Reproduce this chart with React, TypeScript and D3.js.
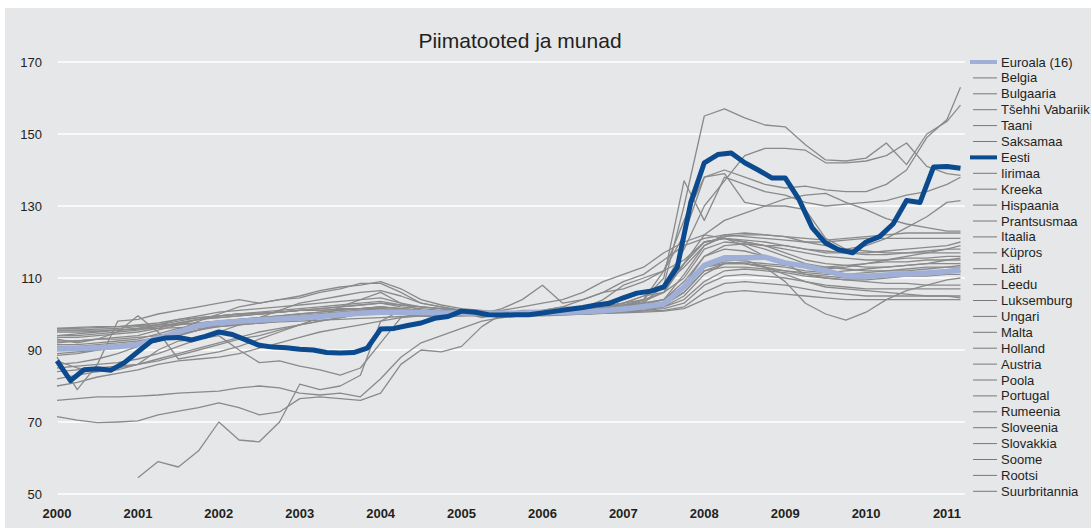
import React from 'react';
import * as d3 from 'd3';

const title = 'Piimatooted ja munad';
const yTicks = [50, 70, 90, 110, 130, 150, 170];
const xTicks = [2000, 2001, 2002, 2003, 2004, 2005, 2006, 2007, 2008, 2009, 2010, 2011];

// quarterly points (months after Jan 2000), last one Mar 2011
const qMonths = [...d3.range(0, 133, 3), 134];
// every second month for Eesti
const eMonths = d3.range(0, 135, 2);

const euroala = [
  90.3, 90.4, 90.6, 90.9, 91.5, 93.2, 95, 96.8, 97.6, 98, 98.3, 98.6, 98.9, 99.3, 99.8, 100.2,
  100.5, 100.5, 100.4, 100.3, 100.3, 100.2, 100.2, 100.3, 100.4, 100.5, 100.6, 100.9, 101.4, 102, 102.8, 107.5,
  113.5, 115.6, 115.6, 115.8, 114.2, 113.3, 112, 110.6, 110.5, 110.8, 111.1, 111.4, 111.8, 112.2,
];

const eesti = [
  87, 81.5, 84.5, 84.8, 84.4, 86.5, 89.5, 92.5, 93.3, 93.5, 92.8, 93.8, 95, 94.3, 92.8, 91.3, 90.8,
  90.6, 90.2, 90, 89.3, 89.2, 89.3, 90.5, 95.8, 96, 96.8, 97.5, 98.8, 99.3, 100.8, 100.5, 99.8, 99.7,
  99.8, 99.8, 100.3, 100.8, 101.3, 101.8, 102.5, 103, 104.5, 105.8, 106.3, 107.5, 113, 131, 142, 144.3,
  144.7, 142, 140, 137.8, 137.8, 132, 124, 119.7, 117.8, 117, 120, 121.5, 125, 131.5, 131, 140.8, 141, 140.5,
];

const belgia = [95, 95, 95.2, 95.5, 96, 96.5, 97, 97.5, 98, 98.5, 99, 99, 99.5, 99.8, 100, 100.5, 101, 101, 100.5, 100.5, 100, 100, 100, 100, 100.3, 100.5, 100.8, 101, 101.5, 102, 103, 108, 116, 119, 119.5, 119, 118, 117, 116, 115.5, 115, 115, 115.5, 115.5, 116, 116];
const bulgaaria = [null, null, null, null, 54.5, 59, 57.5, 62, 70, 65, 64.5, 70, 80.5, 79, 80, 83, 98, 101, 100, 101, 100.5, 99, 100, 100.5, 101, 102, 101.5, 104, 108, 110, 112, 122, 138, 139, 131, 130, 130, 129, 121, 118, 119, 121, 124, 127, 131, 131.5];
const tsehhi = [84, 84.5, 85, 85.5, 86, 87.5, 89, 90.5, 92, 93.5, 95, 96, 97, 98, 99, 100, 100.5, 100, 99.5, 99, 99.5, 100, 101.5, 104, 108, 103, 104, 106, 109, 111, 115, 119, 121, 122, 121.5, 121, 120.5, 120, 120, 120.5, 121, 121, 121, 121, 121, 121];
const taani = [95.5, 95.5, 95.5, 95.5, 95.8, 96, 96.2, 96.5, 97, 97.3, 97.5, 97.8, 98, 98.3, 98.5, 98.8, 99, 99.3, 99.5, 99.7, 100, 100, 100, 100, 100, 100, 100, 100.2, 100.3, 100.5, 100.8, 101.5, 104, 106, 106.5, 106, 105.5, 105, 104.5, 104, 104, 104, 104, 104, 104, 104];
const saksamaa = [95.5, 95.5, 95.8, 96, 96.5, 97, 98, 99, 99.5, 100, 100.3, 100.5, 101, 101, 101.3, 101.5, 102, 101.5, 101, 100.5, 100, 100, 100, 100, 100.2, 100.5, 101, 101.5, 102, 103, 108, 130, 155, 157, 154.5, 152.5, 152, 147, 142.8, 142.5, 143.3, 147.5, 141.5, 150, 153.5, 158];
const iirimaa = [96, 96.3, 96.5, 96.5, 96.8, 97, 97.2, 97.5, 98, 98.3, 98.5, 98.8, 99, 99.3, 99.5, 99.8, 100, 100, 100, 100, 100, 100, 100, 100, 100, 100.2, 100.5, 100.8, 101, 101.5, 102, 104, 109, 112, 112.5, 112, 111.5, 110.5, 110, 109.5, 109.5, 110, 110.5, 110.5, 111, 111];
const kreeka = [88.5, 89, 90, 91, 92, 93, 94, 95.5, 97, 98, 99, 99.5, 100, 100.5, 101, 101.5, 102, 101.5, 101, 100.5, 100, 99.5, 99.7, 100, 100.5, 101, 101.5, 102.5, 104, 106, 108, 113, 119, 121.5, 122, 122, 121.5, 121, 120.5, 121, 121.5, 122, 122.5, 122.5, 122.5, 122.5];
const hispaania = [86, 86.5, 87.5, 89, 91, 93, 95.5, 98, 100, 102, 103, 104, 105, 106.5, 107.5, 108, 109, 107, 104, 102.5, 101.5, 101, 100.5, 100, 100, 100, 100.3, 100.5, 101, 101.5, 102.5, 106, 112, 114, 114.5, 114, 113.5, 113, 113, 113.5, 114, 114.5, 114.5, 115, 115, 115];
const prantsusmaa = [91, 91, 91.5, 92, 92.5, 93.5, 94.5, 95.5, 96.5, 97, 97.5, 98, 98.5, 99, 99.5, 100, 100, 100, 99.5, 99.5, 99.8, 100, 100, 100, 100, 100, 100.2, 100.5, 100.8, 101, 101.5, 103, 108, 110.5, 111, 110.5, 110, 109, 108, 107.5, 107, 107, 107, 107, 107, 107];
const itaalia = [92.5, 92.5, 93, 93, 93.5, 94, 95, 96, 96.5, 97, 97.5, 98, 98.5, 99, 99.5, 99.8, 100, 100, 100, 100, 100, 100, 100, 100, 100, 100, 100, 100.3, 100.5, 100.8, 101, 102, 106, 108.5, 109, 108.5, 108, 107, 106, 105.5, 105, 105, 105, 105, 105, 105];
const kypros = [93, 92, 93, 95, 99.5, 95, 87.5, 88.5, 89.5, 91, 93, 95, 97, 99, 102, 104, 106, 103, 101, 100.5, 101, 100, 99, 99.5, 100, 100.5, 101, 101, 101.5, 102, 103, 107, 113, 114, 114, 113, 111, 109, 107.5, 107, 106.5, 106, 105.5, 105, 105, 104.5];
const lati = [71.5, 70.5, 69.8, 70, 70.3, 72, 73, 74, 75.3, 74, 72, 72.8, 76.5, 77, 76.5, 76, 78, 86, 90, 89.5, 91, 96.5, 100, 101, 101, 102, 104, 106, 107, 109, 112, 115, 120, 121, 119, 116, 114, 113, 112.5, 113, 114, 115, 116, 117, 118, 119];
const leedu = [76, 76.5, 77, 77, 77.2, 77.5, 78, 78.3, 78.6, 79.5, 80, 79.5, 78, 77.5, 78, 77, 82, 88, 92, 94, 96, 98, 99, 100, 100.5, 101, 102, 103, 105, 106, 108, 114, 120, 121, 120, 119, 117, 115, 114, 113.5, 113, 113, 113.5, 114, 115, 115.5];
const luksemburg = [93.5, 93.5, 94, 94.5, 95, 96, 97.5, 98.5, 99, 99.5, 100, 100.5, 101, 101.5, 102, 102.5, 103, 102.5, 102, 101.5, 101, 100.5, 100, 99.8, 99.7, 99.8, 100, 100.2, 100.5, 101, 102, 105, 111, 114, 114, 113.5, 113, 112, 111.5, 112, 112.5, 113, 113.5, 114, 114, 114];
const ungari = [88, 79, 86, 98, 98.5, 100, 101, 102, 103, 104, 103, 104, 104.5, 106, 107, 108.5, 108.5, 106, 103, 102, 101, 100, 99.5, 100, 100.5, 100, 101, 102, 103, 105, 106, 110, 118, 120, 119.5, 118, 116, 114, 113, 112.5, 112, 112, 112.5, 113, 113, 113.5];
const malta = [87, 85, 84, 84.5, 86, 90, 92.5, 93, 94, 90, 86.5, 87, 85.5, 84.5, 83, 85, 92, 99, 100, 99.5, 100, 100, 99.5, 100, 100.5, 101, 101, 102, 102.5, 103, 104, 109, 116, 118, 117.5, 116, 114, 111, 110, 109.5, 109, 108.5, 108.5, 108, 108, 108];
const holland = [92, 92.5, 93, 93.5, 94, 95.5, 97, 98.5, 99.5, 100, 100.5, 101, 101.5, 102, 102.5, 103, 103.5, 102.5, 102, 101.5, 101, 100.5, 100, 100, 100, 100.5, 101, 102, 103, 105, 108, 118, 130, 137, 144, 146, 146, 145.5, 142, 142, 142.5, 144, 147.5, 141, 139, 138.5];
const austria = [85, 85.5, 86, 86.5, 87.5, 89, 91, 93, 95, 97, 99, 101, 103, 104, 105, 106, 106.5, 105, 103, 102, 101, 100.5, 100, 99.5, 99.5, 99.7, 100, 100.3, 100.8, 101.5, 102.5, 106, 112, 113, 113, 112.5, 112, 111.5, 111, 111, 111.5, 112, 112, 112.5, 113, 113];
const poola = [80, 81, 82.5, 83.5, 84.5, 86, 87, 87.5, 88, 89, 90.5, 92, 93.5, 95, 96, 97, 98, 99, 99.5, 99.8, 100, 100, 100, 100.2, 100.5, 101, 101.5, 102, 103, 104, 106, 114, 120, 121, 120.5, 120, 119, 118, 117.5, 117, 116.5, 116.5, 117, 117, 117, 117];
const portugal = [91.5, 91.5, 92, 92.5, 93, 94.5, 96, 97, 98, 98.5, 99, 99.5, 100, 100.5, 101, 101.5, 102, 101.5, 101, 100.5, 100, 99.5, 99.5, 100, 100.5, 101, 101, 101.5, 102, 102.5, 104, 111, 119, 122, 122.5, 122, 121.5, 120, 119, 118, 117.5, 117, 117, 117.5, 118, 118];
const rumeenia = [89, 89.5, 90, 90.5, 91, 92.5, 94, 95.5, 97, 98, 98.5, 99, 99.5, 100, 100.5, 101, 101.5, 101, 100.5, 100, 99.5, 99.5, 100, 100, 100, 100.3, 100.5, 101, 101.5, 102, 103, 107, 113, 115, 115, 113, 109, 103, 100, 98.3, 100.5, 104, 106.5, 108, 109.5, 110];
const sloveenia = [82, 83, 84, 85, 86, 87, 88.5, 90, 91.5, 93, 94, 95.5, 97, 98, 99, 100, 101, 100.5, 100, 100, 100, 99.5, 99.5, 100, 100.2, 100.5, 101, 101.5, 102, 103, 104, 108, 113, 114.5, 114, 113, 112, 111, 110.5, 110, 110, 110.5, 111, 111.5, 112, 112];
const slovakkia = [94, 94, 94.5, 95, 95.5, 96.5, 97.5, 98.5, 99, 99.5, 100, 100.5, 101, 101.5, 102, 102.5, 103, 102, 101.5, 101, 100.5, 100.5, 101, 102, 103, 104, 106, 109, 111, 113, 117, 120, 122, 121, 120, 119, 119, 118, 117, 117, 117, 117.5, 118, 118.5, 119, 120];
const soome = [96, 96, 96.2, 96.5, 97, 97.5, 98.5, 99, 99.5, 100, 100, 100.5, 101, 101, 101.5, 101.5, 101.5, 101, 100.5, 100, 100, 99.8, 100, 100.2, 100.5, 100.8, 101, 101.5, 102, 103.5, 106, 114, 122, 126, 128, 130, 132, 133, 133.5, 131, 129, 126.5, 125, 124, 123, 123];
const rootsi = [90, 90.5, 91, 91.5, 92, 93.5, 95, 96.5, 97.5, 98, 98.5, 99, 99.5, 100, 100.5, 101, 101.5, 101, 100.5, 100, 100, 100, 100, 100, 100, 100.2, 100.5, 101, 102, 104, 110, 137, 126, 138, 136, 134, 133, 131, 130, 130.5, 131, 131.5, 133, 134, 136, 138];
const suurbritannia = [94, 94.5, 95, 95.5, 96, 97, 98.5, 99.5, 100.5, 101, 101.5, 102, 102.5, 103, 103.5, 104, 104.5, 103, 102, 101.5, 100.5, 100, 99.8, 100, 100.3, 100.7, 101, 101.5, 102.5, 104, 112, 126, 138, 140, 138, 136, 135, 135.5, 134.5, 134, 134, 136, 140, 149, 154, 163];

const euroalaName = 'Euroala (16)';
const eestiName = 'Eesti';
const countryNames = [
  'Belgia', 'Bulgaaria', 'Tšehhi Vabariik', 'Taani', 'Saksamaa', 'Iirimaa', 'Kreeka',
  'Hispaania', 'Prantsusmaa', 'Itaalia', 'Küpros', 'Läti', 'Leedu', 'Luksemburg', 'Ungari',
  'Malta', 'Holland', 'Austria', 'Poola', 'Portugal', 'Rumeenia', 'Sloveenia', 'Slovakkia',
  'Soome', 'Rootsi', 'Suurbritannia',
];
const countryValues = [
  belgia, bulgaaria, tsehhi, taani, saksamaa, iirimaa, kreeka, hispaania, prantsusmaa, itaalia,
  kypros, lati, leedu, luksemburg, ungari, malta, holland, austria, poola, portugal, rumeenia,
  sloveenia, slovakkia, soome, rootsi, suurbritannia,
];
// legend order: Euroala, Belgia ... Saksamaa, Eesti, Iirimaa ...
const legendNames = [euroalaName, ...countryNames.slice(0, 5), eestiName, ...countryNames.slice(5)];

const FONT = '"Liberation Sans", Arial, Helvetica, sans-serif';
const GREY = '#8a8a8a';
const LIGHT = '#a0afd8';
const DARK = '#0b4a8e';

type Pt = { t: number; v: number | null };

function toPoints(months: number[], values: (number | null)[]): Pt[] {
  return values.map((v, i) => ({ t: 2000 + months[i] / 12, v }));
}

export default function App(): React.ReactElement {
  const width = 1091;
  const height = 528;

  const x = d3.scaleLinear().domain([2000, 2011]).range([57, 947]);
  const y = d3.scaleLinear().domain([50, 170]).range([494, 62]);

  const line = d3.line<Pt>()
    .defined((d) => d.v !== null)
    .x((d) => x(d.t))
    .y((d) => y(d.v as number));

  const legendY = (i: number) => 62 + i * 15.9;

  return (
    <div style={{ position: 'absolute', left: 0, top: 0 }}>
      <svg width={width} height={height} style={{ display: 'block', fontFamily: FONT }}>
        <rect x={0} y={0} width={width} height={height} fill="#ffffff" />
        <rect x={5} y={8} width={width - 5} height={height - 8} fill="#e6e7e9" />

        <text x={520} y={48} textAnchor="middle" fontSize={21} fill="#231f20">{title}</text>

        {yTicks.map((t) => (
          <g key={t}>
            <line x1={58} x2={965} y1={y(t)} y2={y(t)} stroke="#ffffff" strokeWidth={1.6} />
            <text x={42} y={y(t)} dy="0.35em" textAnchor="end" fontSize={13} fill="#231f20">{t}</text>
          </g>
        ))}

        {xTicks.map((t) => (
          <text key={t} x={x(t)} y={518} textAnchor="middle" fontSize={13} fontWeight="bold" fill="#231f20">{t}</text>
        ))}

        <g fill="none" strokeLinejoin="round">
          {countryValues.map((vals, i) => (
            <path key={countryNames[i]} d={line(toPoints(qMonths, vals)) ?? ''} stroke={GREY} strokeWidth={1.3} />
          ))}
          <path d={line(toPoints(qMonths, euroala)) ?? ''} stroke={LIGHT} strokeWidth={5.5} />
          <path d={line(toPoints(eMonths, eesti)) ?? ''} stroke={DARK} strokeWidth={5} />
        </g>

        <g>
          {legendNames.map((name, i) => {
            const isEuro = name === euroalaName;
            const isEesti = name === eestiName;
            const yy = legendY(i);
            return (
              <g key={name}>
                <line
                  x1={isEuro || isEesti ? 970 : 973}
                  x2={997}
                  y1={yy}
                  y2={yy}
                  stroke={isEuro ? LIGHT : isEesti ? DARK : '#777777'}
                  strokeWidth={isEuro || isEesti ? 4 : 1}
                />
                <text x={1001} y={yy} dy="0.35em" fontSize={13} fill="#231f20">{name}</text>
              </g>
            );
          })}
        </g>
      </svg>
    </div>
  );
}
